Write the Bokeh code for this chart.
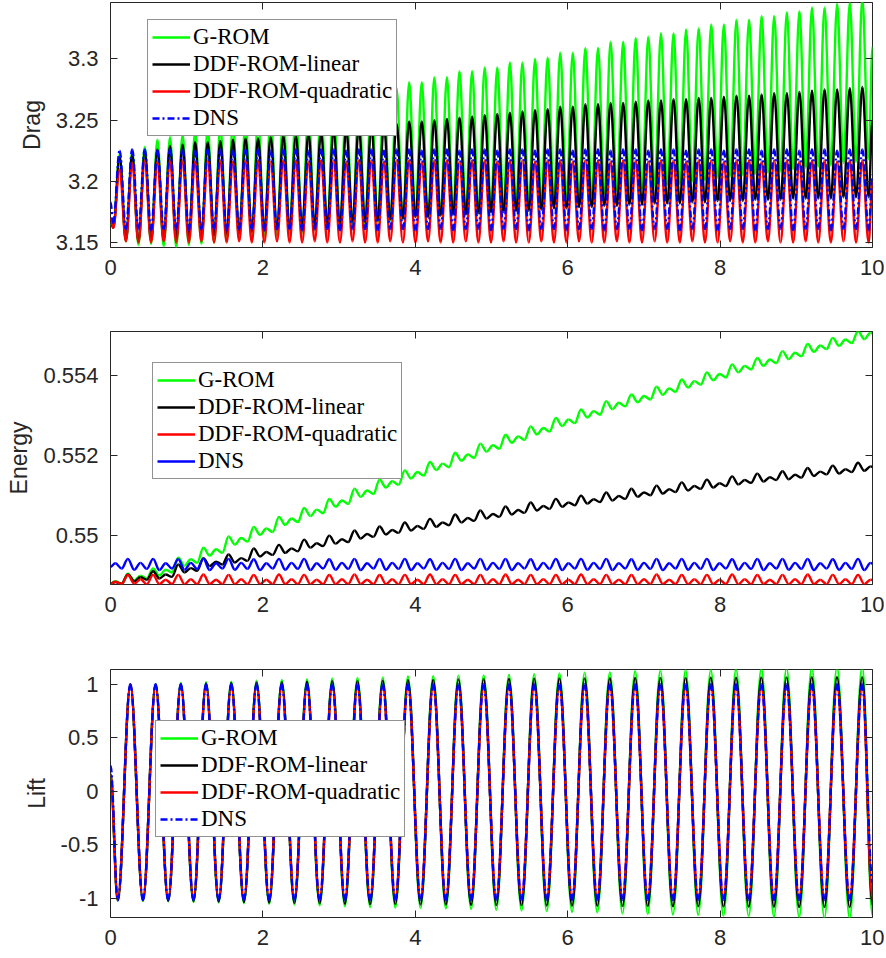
from bokeh.plotting import figure
from bokeh.models import (Range1d, FixedTicker, LinearAxis, Legend, LegendItem,
                          CustomJSTickFormatter)
from bokeh.layouts import column
from bokeh.embed import file_html
from bokeh.resources import INLINE

# ---------------- data ----------------
X_TICKS = [0, 2, 4, 6, 8, 10]
SERIES = ["G-ROM", "DDF-ROM-linear", "DDF-ROM-quadratic", "DNS"]

# ---- Drag: times of troughs / peaks of the oscillation ----
DRAG_TROUGH_T = [0.037, 0.202, 0.367, 0.533, 0.698, 0.863, 1.028, 1.193, 1.359, 1.524,
                 1.689, 1.854, 2.019, 2.185, 2.350, 2.515, 2.680, 2.845, 3.011, 3.176,
                 3.341, 3.506, 3.671, 3.837, 4.002, 4.167, 4.332, 4.497, 4.663, 4.828,
                 4.993, 5.158, 5.323, 5.489, 5.654, 5.819, 5.984, 6.149, 6.315, 6.480,
                 6.645, 6.810, 6.975, 7.141, 7.306, 7.471, 7.636, 7.801, 7.967, 8.132,
                 8.297, 8.462, 8.627, 8.793, 8.958, 9.123, 9.288, 9.453, 9.619, 9.784,
                 9.949]
DRAG_PEAK_T = [0.120, 0.285, 0.450, 0.616, 0.781, 0.946, 1.111, 1.276, 1.442, 1.607,
               1.772, 1.937, 2.102, 2.268, 2.433, 2.598, 2.763, 2.928, 3.094, 3.259,
               3.424, 3.589, 3.754, 3.920, 4.085, 4.250, 4.415, 4.580, 4.746, 4.911,
               5.076, 5.241, 5.406, 5.572, 5.737, 5.902, 6.067, 6.232, 6.398, 6.563,
               6.728, 6.893, 7.058, 7.224, 7.389, 7.554, 7.719, 7.884, 8.050, 8.215,
               8.380, 8.545, 8.710, 8.876, 9.041, 9.206, 9.371, 9.536, 9.702, 9.867]

DRAG_START = [3.165, 3.168, 3.170, 3.183]
DRAG_END = [3.310, 3.250, 3.200, 3.205]

DRAG_GROM_TR = [3.163, 3.151, 3.148, 3.149, 3.147, 3.146, 3.148, 3.149, 3.150, 3.151,
                3.152, 3.153, 3.155, 3.156, 3.157, 3.158, 3.160, 3.161, 3.162, 3.164,
                3.165, 3.166, 3.168, 3.169, 3.171, 3.172, 3.173, 3.175, 3.176, 3.178,
                3.179, 3.180, 3.182, 3.183, 3.184, 3.186, 3.187, 3.188, 3.189, 3.190,
                3.192, 3.193, 3.194, 3.196, 3.197, 3.198, 3.200, 3.201, 3.203, 3.204,
                3.205, 3.206, 3.207, 3.208, 3.210, 3.211, 3.212, 3.213, 3.215, 3.216,
                3.218]
DRAG_GROM_PK = [3.222, 3.224, 3.228, 3.234, 3.236, 3.238, 3.241, 3.243, 3.245, 3.247,
                3.249, 3.251, 3.254, 3.256, 3.258, 3.260, 3.262, 3.264, 3.266, 3.268,
                3.271, 3.273, 3.276, 3.281, 3.281, 3.285, 3.285, 3.290, 3.290, 3.293,
                3.293, 3.297, 3.297, 3.300, 3.301, 3.305, 3.305, 3.309, 3.309, 3.314,
                3.314, 3.317, 3.318, 3.321, 3.321, 3.324, 3.325, 3.328, 3.328, 3.332,
                3.332, 3.335, 3.335, 3.338, 3.339, 3.342, 3.342, 3.345, 3.346, 3.349]

DRAG_LIN_TR = [3.162, 3.152, 3.151, 3.152, 3.152, 3.153, 3.154, 3.155, 3.156, 3.157,
               3.158, 3.159, 3.160, 3.161, 3.162, 3.163, 3.164, 3.165, 3.166, 3.167,
               3.167, 3.168, 3.169, 3.170, 3.171, 3.171, 3.172, 3.173, 3.173, 3.174,
               3.175, 3.175, 3.176, 3.176, 3.177, 3.178, 3.178, 3.179, 3.179, 3.180,
               3.180, 3.181, 3.181, 3.182, 3.182, 3.182, 3.183, 3.183, 3.184, 3.184,
               3.184, 3.185, 3.185, 3.185, 3.186, 3.186, 3.186, 3.186, 3.187, 3.187,
               3.187]
DRAG_LIN_PK = [3.220, 3.222, 3.224, 3.226, 3.229, 3.230, 3.232, 3.232, 3.233, 3.234,
               3.235, 3.235, 3.236, 3.237, 3.237, 3.239, 3.240, 3.241, 3.242, 3.244,
               3.245, 3.246, 3.247, 3.249, 3.249, 3.250, 3.251, 3.252, 3.253, 3.254,
               3.255, 3.256, 3.257, 3.258, 3.259, 3.261, 3.261, 3.263, 3.263, 3.264,
               3.264, 3.265, 3.266, 3.266, 3.267, 3.267, 3.268, 3.268, 3.269, 3.270,
               3.270, 3.271, 3.272, 3.272, 3.273, 3.274, 3.275, 3.275, 3.276, 3.277]

DRAG_QUAD_TR = [3.162, 3.151, 3.150, 3.150, 3.151, 3.150, 3.150, 3.151, 3.150, 3.150,
                3.151, 3.150, 3.150, 3.151, 3.150, 3.150, 3.151, 3.150, 3.150, 3.151,
                3.150, 3.150, 3.151, 3.150, 3.150, 3.151, 3.150, 3.150, 3.151, 3.150,
                3.150, 3.151, 3.150, 3.150, 3.151, 3.150, 3.150, 3.151, 3.150, 3.150,
                3.151, 3.150, 3.150, 3.151, 3.150, 3.150, 3.151, 3.150, 3.150, 3.151,
                3.150, 3.150, 3.151, 3.150, 3.150, 3.151, 3.150, 3.150, 3.151, 3.150,
                3.150]
DRAG_QUAD_PK = [3.210, 3.215, 3.217, 3.216, 3.217, 3.217, 3.216, 3.217, 3.217, 3.216,
                3.217, 3.217, 3.216, 3.217, 3.217, 3.216, 3.217, 3.217, 3.216, 3.217,
                3.217, 3.216, 3.217, 3.217, 3.216, 3.217, 3.217, 3.216, 3.217, 3.217,
                3.216, 3.217, 3.217, 3.216, 3.217, 3.217, 3.216, 3.217, 3.217, 3.216,
                3.217, 3.217, 3.216, 3.217, 3.217, 3.216, 3.217, 3.217, 3.216, 3.217,
                3.217, 3.216, 3.217, 3.217, 3.216, 3.217, 3.217, 3.216, 3.217, 3.217]

DRAG_DNS_TR = [3.166, 3.161, 3.161, 3.160, 3.161, 3.161, 3.160, 3.161, 3.161, 3.160,
               3.161, 3.161, 3.160, 3.161, 3.161, 3.160, 3.161, 3.161, 3.160, 3.161,
               3.161, 3.160, 3.161, 3.161, 3.160, 3.161, 3.161, 3.160, 3.161, 3.161,
               3.160, 3.161, 3.161, 3.160, 3.161, 3.161, 3.160, 3.161, 3.161, 3.160,
               3.161, 3.161, 3.160, 3.161, 3.161, 3.160, 3.161, 3.161, 3.160, 3.161,
               3.161, 3.160, 3.161, 3.161, 3.160, 3.161, 3.161, 3.160, 3.161, 3.161,
               3.160]
DRAG_DNS_PK = [3.225, 3.226, 3.226, 3.225, 3.226, 3.226, 3.225, 3.226, 3.226, 3.225,
               3.226, 3.226, 3.225, 3.226, 3.226, 3.225, 3.226, 3.226, 3.225, 3.226,
               3.226, 3.225, 3.226, 3.226, 3.225, 3.226, 3.226, 3.225, 3.226, 3.226,
               3.225, 3.226, 3.226, 3.225, 3.226, 3.226, 3.225, 3.226, 3.226, 3.225,
               3.226, 3.226, 3.225, 3.226, 3.226, 3.225, 3.226, 3.226, 3.225, 3.226,
               3.226, 3.225, 3.226, 3.226, 3.225, 3.226, 3.226, 3.225, 3.226, 3.226]

# ---- Energy: times of the wiggle extrema (small peak, trough, big peak, trough) ----
ENERGY_T = [0.0,
            0.063, 0.146, 0.228, 0.311, 0.393, 0.476, 0.559, 0.641,
            0.724, 0.806, 0.889, 0.972, 1.054, 1.137, 1.219, 1.302,
            1.385, 1.467, 1.550, 1.632, 1.715, 1.798, 1.880, 1.963,
            2.045, 2.128, 2.211, 2.293, 2.376, 2.458, 2.541, 2.624,
            2.706, 2.789, 2.871, 2.954, 3.037, 3.119, 3.202, 3.284,
            3.367, 3.450, 3.532, 3.615, 3.697, 3.780, 3.863, 3.945,
            4.028, 4.110, 4.193, 4.276, 4.358, 4.441, 4.523, 4.606,
            4.689, 4.771, 4.854, 4.936, 5.019, 5.102, 5.184, 5.267,
            5.349, 5.432, 5.515, 5.597, 5.680, 5.762, 5.845, 5.928,
            6.010, 6.093, 6.175, 6.258, 6.341, 6.423, 6.506, 6.588,
            6.671, 6.754, 6.836, 6.919, 7.001, 7.084, 7.167, 7.249,
            7.332, 7.414, 7.497, 7.580, 7.662, 7.745, 7.827, 7.910,
            7.993, 8.075, 8.158, 8.240, 8.323, 8.406, 8.488, 8.571,
            8.653, 8.736, 8.819, 8.901, 8.984, 9.066, 9.149, 9.232,
            9.314, 9.397, 9.479, 9.562, 9.645, 9.727, 9.810, 9.892,
            9.975, 10.0]

ENERGY_GROM = [0.54880,
               0.54886, 0.54880, 0.54905, 0.54888, 0.54900, 0.54893, 0.54918, 0.54900,
               0.54915, 0.54908, 0.54945, 0.54925, 0.54941, 0.54932, 0.54970, 0.54950,
               0.54966, 0.54957, 0.54998, 0.54978, 0.54994, 0.54985, 0.55022, 0.55002,
               0.55018, 0.55009, 0.55047, 0.55027, 0.55043, 0.55034, 0.55069, 0.55049,
               0.55065, 0.55056, 0.55092, 0.55072, 0.55088, 0.55079, 0.55117, 0.55097,
               0.55113, 0.55104, 0.55140, 0.55120, 0.55136, 0.55127, 0.55163, 0.55143,
               0.55159, 0.55150, 0.55184, 0.55164, 0.55180, 0.55171, 0.55207, 0.55187,
               0.55203, 0.55194, 0.55230, 0.55210, 0.55226, 0.55217, 0.55252, 0.55232,
               0.55248, 0.55239, 0.55273, 0.55253, 0.55269, 0.55260, 0.55294, 0.55274,
               0.55290, 0.55281, 0.55315, 0.55295, 0.55311, 0.55302, 0.55336, 0.55316,
               0.55332, 0.55323, 0.55353, 0.55333, 0.55349, 0.55340, 0.55372, 0.55352,
               0.55368, 0.55359, 0.55390, 0.55370, 0.55386, 0.55377, 0.55408, 0.55388,
               0.55404, 0.55395, 0.55428, 0.55408, 0.55424, 0.55415, 0.55444, 0.55424,
               0.55440, 0.55431, 0.55461, 0.55441, 0.55457, 0.55448, 0.55479, 0.55459,
               0.55475, 0.55466, 0.55494, 0.55474, 0.55490, 0.55481, 0.55511, 0.55491,
               0.55507, 0.55505]

ENERGY_LIN = [0.54880,
              0.54884, 0.54880, 0.54903, 0.54886, 0.54896, 0.54890, 0.54911, 0.54893,
              0.54903, 0.54897, 0.54928, 0.54908, 0.54919, 0.54912, 0.54944, 0.54924,
              0.54935, 0.54928, 0.54953, 0.54933, 0.54944, 0.54937, 0.54968, 0.54948,
              0.54959, 0.54952, 0.54977, 0.54957, 0.54968, 0.54961, 0.54990, 0.54970,
              0.54981, 0.54974, 0.55000, 0.54980, 0.54991, 0.54984, 0.55013, 0.54993,
              0.55004, 0.54997, 0.55023, 0.55003, 0.55014, 0.55007, 0.55033, 0.55013,
              0.55024, 0.55017, 0.55042, 0.55022, 0.55033, 0.55026, 0.55053, 0.55033,
              0.55044, 0.55037, 0.55063, 0.55043, 0.55054, 0.55047, 0.55073, 0.55053,
              0.55064, 0.55057, 0.55083, 0.55063, 0.55074, 0.55067, 0.55092, 0.55072,
              0.55083, 0.55076, 0.55100, 0.55080, 0.55091, 0.55084, 0.55108, 0.55088,
              0.55099, 0.55092, 0.55117, 0.55097, 0.55108, 0.55101, 0.55125, 0.55105,
              0.55116, 0.55109, 0.55133, 0.55113, 0.55124, 0.55117, 0.55140, 0.55120,
              0.55131, 0.55124, 0.55148, 0.55128, 0.55139, 0.55132, 0.55155, 0.55135,
              0.55146, 0.55139, 0.55161, 0.55141, 0.55152, 0.55145, 0.55169, 0.55149,
              0.55160, 0.55153, 0.55175, 0.55155, 0.55166, 0.55159, 0.55182, 0.55162,
              0.55173, 0.55172]

ENERGY_QUAD = [0.54880,
               0.54885, 0.54879, 0.54902, 0.54880, 0.54891, 0.54879, 0.54902, 0.54879,
               0.54890, 0.54879, 0.54902, 0.54879, 0.54891, 0.54879, 0.54903, 0.54879,
               0.54890, 0.54879, 0.54902, 0.54879, 0.54891, 0.54879, 0.54902, 0.54879,
               0.54890, 0.54879, 0.54903, 0.54879, 0.54891, 0.54879, 0.54902, 0.54879,
               0.54890, 0.54879, 0.54902, 0.54879, 0.54891, 0.54879, 0.54903, 0.54879,
               0.54890, 0.54879, 0.54902, 0.54879, 0.54891, 0.54879, 0.54902, 0.54879,
               0.54890, 0.54879, 0.54903, 0.54879, 0.54891, 0.54879, 0.54902, 0.54879,
               0.54890, 0.54879, 0.54902, 0.54879, 0.54891, 0.54879, 0.54903, 0.54879,
               0.54890, 0.54879, 0.54902, 0.54879, 0.54891, 0.54879, 0.54902, 0.54879,
               0.54890, 0.54879, 0.54903, 0.54879, 0.54891, 0.54879, 0.54902, 0.54879,
               0.54890, 0.54879, 0.54902, 0.54879, 0.54891, 0.54879, 0.54903, 0.54879,
               0.54890, 0.54879, 0.54902, 0.54879, 0.54891, 0.54879, 0.54902, 0.54879,
               0.54890, 0.54879, 0.54903, 0.54879, 0.54891, 0.54879, 0.54902, 0.54879,
               0.54890, 0.54879, 0.54902, 0.54879, 0.54891, 0.54879, 0.54903, 0.54879,
               0.54890, 0.54879, 0.54902, 0.54879, 0.54891, 0.54879, 0.54902, 0.54879,
               0.54890, 0.54889]

ENERGY_DNS = [0.54922,
              0.54931, 0.54918, 0.54942, 0.54915, 0.54932, 0.54917, 0.54942, 0.54914,
              0.54931, 0.54918, 0.54941, 0.54915, 0.54932, 0.54917, 0.54942, 0.54914,
              0.54931, 0.54918, 0.54942, 0.54915, 0.54932, 0.54917, 0.54941, 0.54914,
              0.54931, 0.54918, 0.54942, 0.54915, 0.54932, 0.54917, 0.54942, 0.54914,
              0.54931, 0.54918, 0.54941, 0.54915, 0.54932, 0.54917, 0.54942, 0.54914,
              0.54931, 0.54918, 0.54942, 0.54915, 0.54932, 0.54917, 0.54942, 0.54914,
              0.54931, 0.54918, 0.54941, 0.54915, 0.54932, 0.54917, 0.54942, 0.54914,
              0.54931, 0.54918, 0.54942, 0.54915, 0.54932, 0.54917, 0.54942, 0.54914,
              0.54931, 0.54918, 0.54941, 0.54915, 0.54932, 0.54917, 0.54942, 0.54914,
              0.54931, 0.54918, 0.54942, 0.54915, 0.54932, 0.54917, 0.54942, 0.54914,
              0.54931, 0.54918, 0.54941, 0.54915, 0.54932, 0.54917, 0.54942, 0.54914,
              0.54931, 0.54918, 0.54942, 0.54915, 0.54932, 0.54917, 0.54942, 0.54914,
              0.54931, 0.54918, 0.54941, 0.54915, 0.54932, 0.54917, 0.54942, 0.54914,
              0.54931, 0.54918, 0.54942, 0.54915, 0.54932, 0.54917, 0.54942, 0.54914,
              0.54931, 0.54918, 0.54941, 0.54915, 0.54932, 0.54917, 0.54942, 0.54914,
              0.54932, 0.54930]

# ---- Lift ----
LIFT_TROUGH_T = [0.095, 0.426, 0.757, 1.089, 1.420, 1.751, 2.082, 2.413, 2.745, 3.076,
                 3.407, 3.738, 4.069, 4.401, 4.732, 5.063, 5.394, 5.725, 6.057, 6.388,
                 6.719, 7.050, 7.381, 7.713, 8.044, 8.375, 8.706, 9.037, 9.369, 9.700]
LIFT_PEAK_T = [0.261, 0.592, 0.923, 1.254, 1.585, 1.917, 2.248, 2.579, 2.910, 3.241,
               3.573, 3.904, 4.235, 4.566, 4.897, 5.229, 5.560, 5.891, 6.222, 6.553,
               6.885, 7.216, 7.547, 7.878, 8.209, 8.541, 8.872, 9.203, 9.534, 9.865]
LIFT_START = [0.16, 0.16, 0.16, 0.24]
LIFT_END = [-1.16, -1.06, -1.00, -0.85]

LIFT_GROM_TR = [-1.022, -1.025, -1.030, -1.035, -1.040, -1.047, -1.052, -1.059, -1.068, -1.075,
                -1.082, -1.088, -1.092, -1.095, -1.100, -1.108, -1.115, -1.121, -1.128, -1.132,
                -1.143, -1.146, -1.153, -1.157, -1.165, -1.168, -1.174, -1.178, -1.185, -1.190]
LIFT_GROM_PK = [1.000, 1.003, 1.015, 1.022, 1.026, 1.035, 1.042, 1.047, 1.056, 1.062,
                1.066, 1.074, 1.078, 1.081, 1.085, 1.090, 1.097, 1.103, 1.110, 1.113,
                1.125, 1.128, 1.133, 1.136, 1.145, 1.150, 1.155, 1.160, 1.165, 1.170]
LIFT_LIN_TR = [-1.020, -1.020, -1.024, -1.028, -1.032, -1.036, -1.040, -1.044, -1.048, -1.051,
               -1.054, -1.056, -1.058, -1.060, -1.062, -1.064, -1.066, -1.068, -1.070, -1.071,
               -1.072, -1.074, -1.075, -1.076, -1.078, -1.079, -1.080, -1.082, -1.083, -1.084]
LIFT_LIN_PK = [1.000, 1.000, 1.005, 1.010, 1.015, 1.020, 1.022, 1.026, 1.030, 1.033,
               1.036, 1.040, 1.043, 1.047, 1.050, 1.052, 1.054, 1.056, 1.057, 1.058,
               1.060, 1.061, 1.062, 1.063, 1.064, 1.065, 1.066, 1.067, 1.068, 1.068]
LIFT_QUAD_TR = [-1.015, -1.012, -1.010, -1.008, -1.006, -1.005, -1.004, -1.003, -1.002, -1.001,
                -1.000, -1.000, -0.999, -0.999, -0.998, -0.998, -0.997, -0.997, -0.996, -0.996,
                -0.996, -0.995, -0.995, -0.995, -0.995, -0.995, -0.995, -0.995, -0.995, -0.995]
LIFT_QUAD_PK = [1.000, 0.995, 0.992, 0.990, 0.989, 0.988, 0.987, 0.986, 0.985, 0.985,
                0.984, 0.984, 0.983, 0.983, 0.982, 0.982, 0.982, 0.981, 0.981, 0.981,
                0.980, 0.980, 0.980, 0.980, 0.980, 0.980, 0.980, 0.980, 0.980, 0.980]
LIFT_DNS_TR = [-1.018, -1.017, -1.016, -1.016, -1.017, -1.016, -1.016, -1.017, -1.016, -1.016,
               -1.017, -1.016, -1.016, -1.017, -1.016, -1.016, -1.017, -1.016, -1.016, -1.017,
               -1.016, -1.016, -1.017, -1.016, -1.016, -1.017, -1.016, -1.016, -1.017, -1.016]
LIFT_DNS_PK = [1.003, 1.002, 1.002, 1.003, 1.002, 1.002, 1.003, 1.002, 1.002, 1.003,
               1.002, 1.002, 1.003, 1.002, 1.002, 1.003, 1.002, 1.002, 1.003, 1.002,
               1.002, 1.003, 1.002, 1.002, 1.003, 1.002, 1.002, 1.003, 1.002, 1.002]

# ---------------- styling ----------------
COLORS = ["#00ff00", "#000000", "#ff0000", "#0000ff"]
INK = "#262626"
SANS = "Liberation Sans"
SERIF = "Liberation Serif"
K = 0.3634  # cubic-Bezier handle fraction giving a half-cosine between extrema
LW = 2.4

WIDTH = 884
LEFT = 110
RIGHT = 12


def merge(start, end, t_tr, v_tr, t_pk, v_pk):
    pts = sorted(list(zip(t_tr, v_tr)) + list(zip(t_pk, v_pk)))
    xs = [0.0] + [a for a, _ in pts] + [10.0]
    ys = [start] + [b for _, b in pts] + [end]
    return xs, ys


def make_fig(height, top, bottom, y0, y1, yticks, ylabel):
    p = figure(width=WIDTH, height=height, x_range=Range1d(0, 10), y_range=Range1d(y0, y1),
               output_backend="svg", toolbar_location=None,
               min_border_left=LEFT, min_border_right=RIGHT,
               min_border_top=top, min_border_bottom=bottom)
    p.xgrid.visible = False
    p.ygrid.visible = False
    p.outline_line_color = INK
    p.outline_line_width = 1
    p.background_fill_color = "white"
    p.border_fill_color = "white"
    fmt = CustomJSTickFormatter(code="return tick.toString();")
    xa = p.below[0]
    ya = p.left[0]
    xa.ticker = FixedTicker(ticks=X_TICKS)
    ya.ticker = FixedTicker(ticks=yticks)
    for ax in (xa, ya):
        ax.formatter = fmt
        ax.major_tick_in = 7
        ax.major_tick_out = 0
        ax.minor_tick_line_color = None
        ax.axis_line_color = None
        ax.major_tick_line_color = INK
        ax.major_label_text_font = SANS
        ax.major_label_text_font_size = "22px"
        ax.major_label_text_color = INK
    xa.major_label_standoff = 12
    ya.major_label_standoff = 12
    ya.axis_label = ylabel
    ya.axis_label_text_font = SANS
    ya.axis_label_text_font_size = "23px"
    ya.axis_label_text_font_style = "normal"
    ya.axis_label_text_color = INK
    ya.axis_label_standoff = 8
    # tick marks on the top and right sides of the box (no labels drawn)
    top_ax = LinearAxis(ticker=FixedTicker(ticks=X_TICKS), major_label_text_color=None,
                        major_label_text_font_size="1px",
                        major_label_standoff=0, major_tick_in=7, major_tick_out=0,
                        minor_tick_line_color=None, axis_line_color=None,
                        major_tick_line_color=INK)
    right_ax = LinearAxis(ticker=FixedTicker(ticks=yticks), major_label_text_color=None,
                          major_label_text_font_size="1px",
                          major_label_standoff=0, major_tick_in=7, major_tick_out=0,
                          minor_tick_line_color=None, axis_line_color=None,
                          major_tick_line_color=INK)
    p.add_layout(top_ax, "above")
    p.add_layout(right_ax, "right")
    return p


def add_curves(p, curves, dns_dash, loc):
    items = []
    for i, (xs, ys) in enumerate(curves):
        dash = dns_dash if i == 3 else "solid"
        x0 = xs[:-1]
        x1 = xs[1:]
        y0 = ys[:-1]
        y1 = ys[1:]
        cx0 = [a + K * (b - a) for a, b in zip(x0, x1)]
        cx1 = [b - K * (b - a) for a, b in zip(x0, x1)]
        r = p.bezier(x0=x0, y0=y0, x1=x1, y1=y1, cx0=cx0, cy0=y0, cx1=cx1, cy1=y1,
                     line_color=COLORS[i], line_width=LW, line_dash=dash)
        items.append(LegendItem(label=SERIES[i], renderers=[r]))
    leg = Legend(items=items, location=loc, orientation="vertical",
                 label_text_font=SERIF, label_text_font_size="23px", label_text_color="#000000",
                 glyph_width=38, glyph_height=26, label_height=26, label_standoff=3,
                 spacing=1, padding=4, margin=0,
                 border_line_color=INK, border_line_width=1,
                 background_fill_color="white", background_fill_alpha=1.0)
    p.add_layout(leg)


# ---- Drag panel ----
p1 = make_fig(299, 2, 52, 3.146, 3.346, [3.15, 3.2, 3.25, 3.3], "Drag")
drag_sets = [(DRAG_GROM_TR, DRAG_GROM_PK), (DRAG_LIN_TR, DRAG_LIN_PK),
             (DRAG_QUAD_TR, DRAG_QUAD_PK), (DRAG_DNS_TR, DRAG_DNS_PK)]
drag_curves = [merge(DRAG_START[i], DRAG_END[i], DRAG_TROUGH_T, tr, DRAG_PEAK_T, pk)
               for i, (tr, pk) in enumerate(drag_sets)]
add_curves(p1, drag_curves, "7 3 2 3", (37, 111))

# ---- Energy panel ----
p2 = make_fig(340, 32, 55, 0.54878, 0.5551, [0.55, 0.552, 0.554], "Energy")
energy_curves = [(ENERGY_T, ENERGY_GROM), (ENERGY_T, ENERGY_LIN),
                 (ENERGY_T, ENERGY_QUAD), (ENERGY_T, ENERGY_DNS)]
add_curves(p2, energy_curves, "solid", (42, 105))

# ---- Lift panel ----
p3 = make_fig(314, 30, 36, -1.18, 1.14, [-1, -0.5, 0, 0.5, 1], "Lift")
lift_sets = [(LIFT_GROM_TR, LIFT_GROM_PK), (LIFT_LIN_TR, LIFT_LIN_PK),
             (LIFT_QUAD_TR, LIFT_QUAD_PK), (LIFT_DNS_TR, LIFT_DNS_PK)]
lift_curves = [merge(LIFT_START[i], LIFT_END[i], LIFT_TROUGH_T, tr, LIFT_PEAK_T, pk)
               for i, (tr, pk) in enumerate(lift_sets)]
add_curves(p3, lift_curves, "7 3 2 3", (45, 80))

layout = column(p1, p2, p3, spacing=0)
open("out.html", "w").write(file_html(layout, INLINE))
